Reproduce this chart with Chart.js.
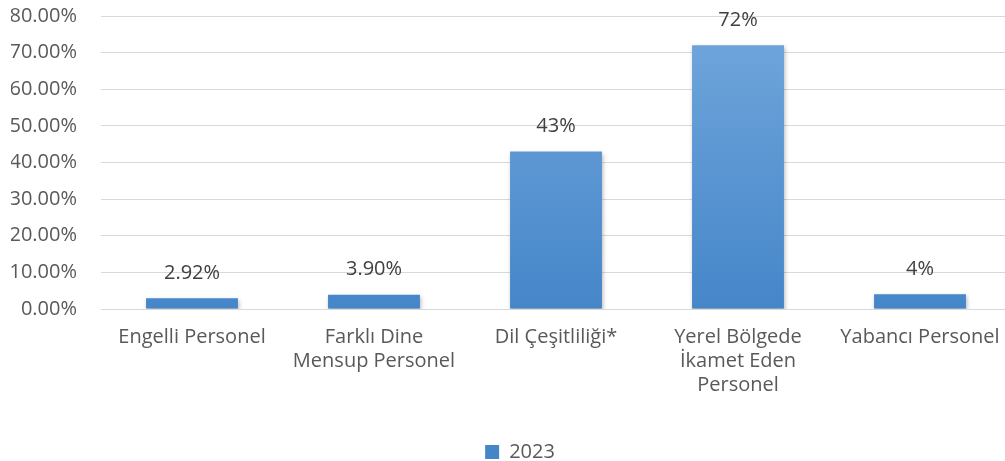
<!DOCTYPE html>
<html>
<head>
<meta charset="utf-8">
<script src="https://cdn.jsdelivr.net/npm/chart.js@4.4.0/dist/chart.umd.min.js"></script>
<style>
html,body{margin:0;padding:0;background:#fff;overflow:hidden;}
#wrap{width:1011px;height:461px;position:relative;}
</style>
</head>
<body>
<div id="wrap"><canvas id="c"></canvas></div>
<script>
const categories = [
  "Engelli Personel",
  ["Farklı Dine", "Mensup Personel"],
  "Dil Çeşitliliği*",
  ["Yerel Bölgede", "İkamet Eden", "Personel"],
  "Yabancı Personel"
];
const values2023 = [2.92, 3.90, 43, 72, 4];
const valueLabels = ["2.92%", "3.90%", "43%", "72%", "4%"];
const seriesName = "2023";
const yTicks = { min: 0, max: 80, step: 10 };

const FONT = "'Open Sans', sans-serif";
const FSIZE = 20;

const dataLabelPlugin = {
  id: 'dataLabels',
  afterDatasetsDraw(chart) {
    const ctx = chart.ctx;
    const meta = chart.getDatasetMeta(0);
    ctx.save();
    ctx.font = FSIZE + "px " + FONT;
    ctx.fillStyle = "#404040";
    ctx.textAlign = "center";
    ctx.textBaseline = "middle";
    meta.data.forEach((bar, i) => {
      ctx.fillText(valueLabels[i], bar.x, bar.y - 25);
    });
    ctx.restore();
  }
};

const shadowPlugin = {
  id: 'barShadow',
  beforeDatasetsDraw(chart) {
    const ctx = chart.ctx;
    ctx.save();
    ctx.shadowColor = 'rgba(0,0,0,0.28)';
    ctx.shadowBlur = 4;
    ctx.shadowOffsetX = 1;
    ctx.shadowOffsetY = 2;
  },
  afterDatasetsDraw(chart) {
    chart.ctx.restore();
  }
};

function barGradient(context) {
  const chart = context.chart;
  const area = chart.chartArea;
  if (!area) return '#5b9bd5';
  const g = chart.ctx.createLinearGradient(0, area.top, 0, area.bottom);
  g.addColorStop(0, '#72a7dc');
  g.addColorStop(1, '#4586c9');
  return g;
}

const chart = new Chart(document.getElementById('c'), {
  type: 'bar',
  data: {
    labels: categories,
    datasets: [{
      label: seriesName,
      data: values2023,
      backgroundColor: barGradient,
      borderWidth: 0,
      categoryPercentage: 1,
      barPercentage: 0.505
    }]
  },
  options: {
    responsive: true,
    maintainAspectRatio: false,
    animation: false,
    layout: { padding: { left: 11, right: 0, top: 16, bottom: -11 } },
    plugins: {
      legend: {
        position: 'bottom',
        labels: {
          boxWidth: 14, boxHeight: 14,
          padding: 0,
          color: '#595959',
          font: { size: FSIZE, family: FONT }
        }
      },
      tooltip: { enabled: false }
    },
    scales: {
      y: {
        min: yTicks.min, max: yTicks.max,
        ticks: {
          stepSize: yTicks.step,
          padding: 24,
          color: '#595959',
          font: { size: FSIZE, family: FONT },
          callback: v => v.toFixed(2) + '%'
        },
        grid: { color: '#d9d9d9', lineWidth: 1, drawTicks: false },
        border: { display: false },
        afterFit(scale) { scale.paddingTop = 0; scale.paddingBottom = 0; scale.width = 90; }
      },
      x: {
        ticks: {
          padding: 16,
          color: '#595959',
          font: { size: FSIZE, family: FONT, lineHeight: 1.2 },
          maxRotation: 0, autoSkip: false
        },
        grid: { display: false, drawTicks: false },
        border: { display: true, color: '#d9d9d9' },
        afterFit(scale) { scale.paddingLeft = 0; scale.paddingRight = 0; scale.height = 133; }
      }
    }
  },
  plugins: [shadowPlugin, dataLabelPlugin]
});

// nudge legend to the reference position
const lg = chart.legend;
const origDraw = lg.draw.bind(lg);
lg.draw = function () {
  chart.ctx.save();
  chart.ctx.translate(9, 0);
  origDraw();
  chart.ctx.restore();
};
chart.draw();
</script>
</body>
</html>
